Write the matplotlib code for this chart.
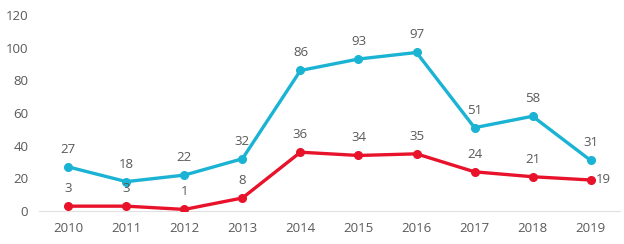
import matplotlib
matplotlib.use("Agg")
import matplotlib.pyplot as plt

years = ["2010", "2011", "2012", "2013", "2014", "2015", "2016", "2017", "2018", "2019"]
series_blue = [27, 18, 22, 32, 86, 93, 97, 51, 58, 31]
series_red = [3, 3, 1, 8, 36, 34, 35, 24, 21, 19]
yticks = [0, 20, 40, 60, 80, 100, 120]

plt.rcParams['font.family'] = ['Open Sans', 'DejaVu Sans']
fig = plt.figure(figsize=(6.24, 2.44), dpi=100)
ax = fig.add_axes([0.063, 0.135, 0.93, 0.804])

x = list(range(len(years)))
blue = "#1BB3D4"
red = "#E8132B"
txt = "#595959"
ax.plot(x, series_blue, color=blue, lw=2.4, marker="o", ms=5.5, zorder=3)
ax.plot(x, series_red, color=red, lw=2.4, marker="o", ms=5.5, zorder=3)

for i, v in enumerate(series_blue):
    ax.annotate(str(v), (i, v), xytext=(0, 8), textcoords="offset points",
                ha="center", va="bottom", fontsize=9.5, color=txt)
for i, v in enumerate(series_red):
    if i == len(series_red) - 1:
        ax.annotate(str(v), (i, v), xytext=(4, 0), textcoords="offset points",
                    ha="left", va="center", fontsize=9.5, color=txt)
    else:
        ax.annotate(str(v), (i, v), xytext=(0, 8), textcoords="offset points",
                    ha="center", va="bottom", fontsize=9.5, color=txt)

ax.set_xlim(-0.5, len(years) - 0.5)
ax.set_ylim(0, 120)
ax.set_yticks(yticks)
ax.set_xticks(x)
ax.set_xticklabels(years)
ax.tick_params(axis="both", length=0, labelsize=9.5, labelcolor=txt)
ax.tick_params(axis="x", pad=8)
ax.tick_params(axis="y", pad=8)
for s in ["top", "right", "left"]:
    ax.spines[s].set_visible(False)
ax.spines["bottom"].set_color("#E0E0E0")
ax.spines["bottom"].set_linewidth(0.8)

fig.savefig("out.png", dpi=100)
